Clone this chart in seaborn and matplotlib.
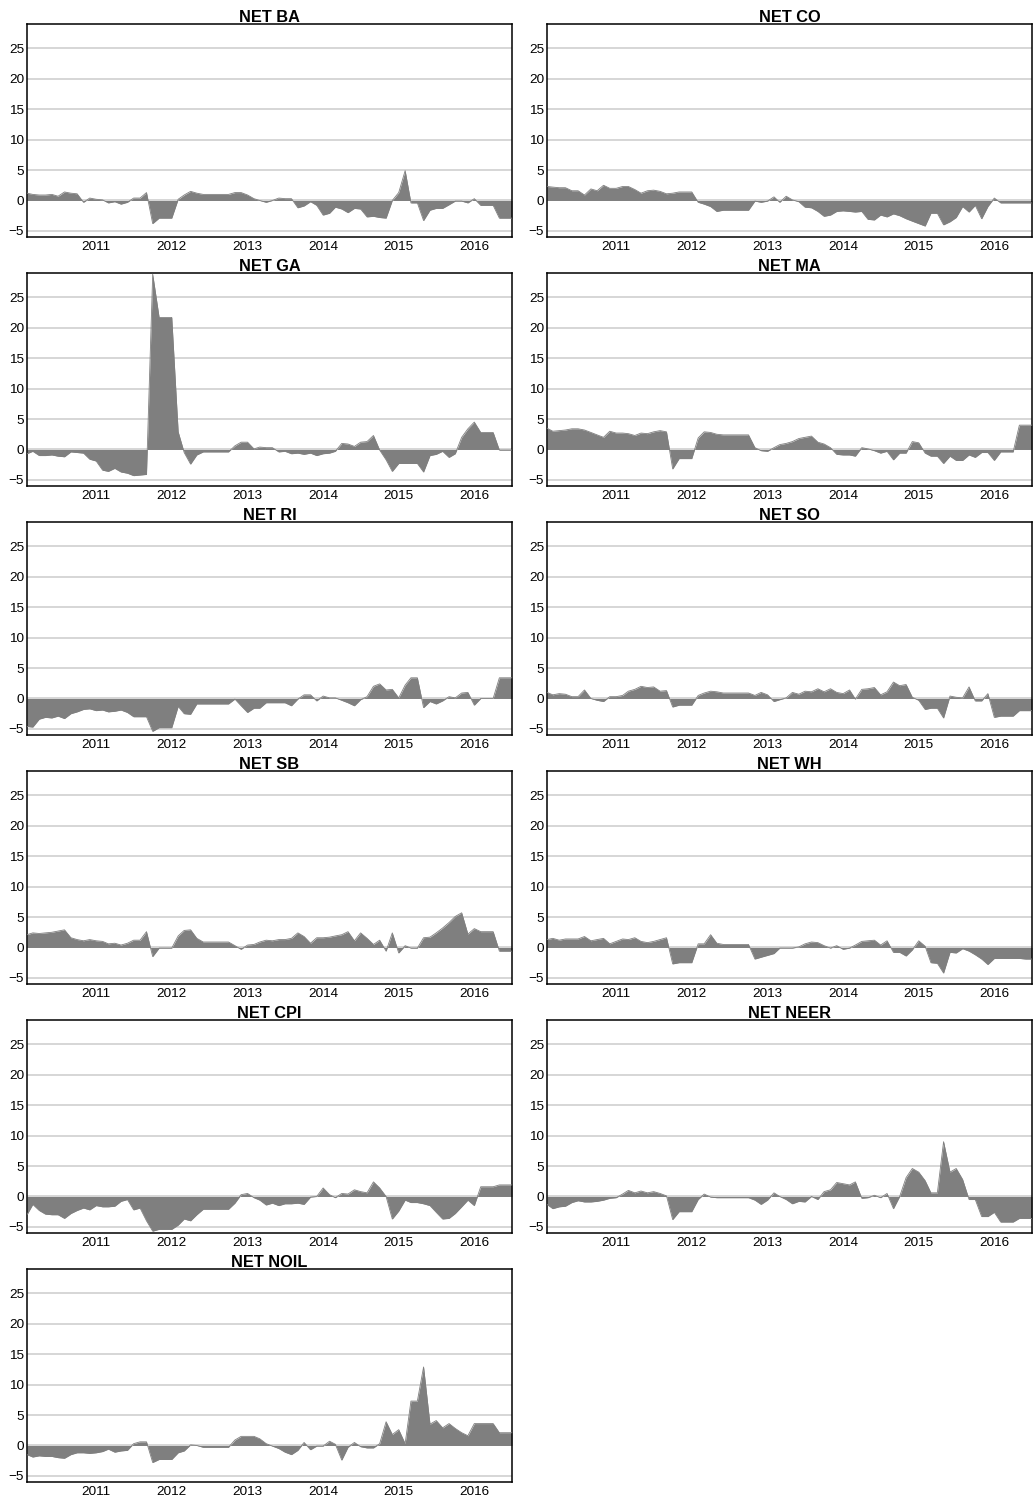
import numpy as np
import pandas as pd
import matplotlib
matplotlib.use("Agg")
import matplotlib.pyplot as plt
import matplotlib.dates as mdates
import seaborn as sns

# ---- data (monthly, Feb 2010 - Jul 2016) ----
dates = pd.date_range("2010-02-01", periods=78, freq="MS")

net_ba = [1.2, 1.0, 0.9, 0.9, 1.0, 0.7, 1.4, 1.2, 1.1, -0.3, 0.4,
          0.2, 0.1, -0.4, -0.2, -0.6, -0.3, 0.4, 0.4, 1.3, -3.8, -2.9, -2.9,
          -2.9, 0.2, 0.9, 1.5, 1.2, 1.0, 1.0, 1.0, 1.0, 1.0, 1.3, 1.3,
          0.9, 0.3, 0.0, -0.3, 0.0, 0.4, 0.3, 0.3, -1.2, -0.9, -0.2, -0.8,
          -2.4, -2.1, -1.1, -1.4, -2.0, -1.3, -1.4, -2.7, -2.6, -2.8, -2.9, 0.0,
          1.3, 4.9, -0.4, -0.4, -3.3, -1.6, -1.3, -1.3, -0.7, -0.1, -0.1, -0.4,
          0.3, -0.8, -0.8, -0.8, -2.9, -2.9, -2.9]

net_co = [2.3, 2.2, 2.1, 2.1, 1.6, 1.6, 0.9, 1.9, 1.6, 2.5, 2.0,
          2.0, 2.3, 2.3, 1.8, 1.2, 1.6, 1.7, 1.5, 1.1, 1.2, 1.4, 1.4,
          1.4, -0.3, -0.6, -1.0, -1.8, -1.6, -1.6, -1.6, -1.6, -1.6, -0.1, -0.3,
          -0.1, 0.6, -0.3, 0.7, 0.1, -0.2, -1.1, -1.2, -1.8, -2.6, -2.4, -1.8,
          -1.7, -1.8, -1.9, -1.8, -3.1, -3.2, -2.4, -2.7, -2.2, -2.5, -3.0, -3.4,
          -3.8, -4.2, -2.1, -2.1, -4.0, -3.5, -2.8, -1.0, -1.9, -0.8, -3.0, -1.0,
          0.4, -0.4, -0.4, -0.4, -0.4, -0.4, -0.4]

net_ga = [-0.7, -0.3, -1.0, -1.0, -0.9, -1.1, -1.2, -0.4, -0.5, -0.6, -1.6,
          -1.9, -3.4, -3.6, -3.1, -3.7, -3.9, -4.3, -4.2, -4.1, 28.8, 21.7, 21.7,
          21.7, 2.9, -0.5, -2.4, -0.9, -0.4, -0.4, -0.4, -0.4, -0.4, 0.6, 1.2,
          1.2, 0.1, 0.4, 0.3, 0.3, -0.4, -0.3, -0.7, -0.6, -0.8, -0.6, -1.0,
          -0.7, -0.6, -0.3, 1.0, 0.9, 0.5, 1.2, 1.3, 2.3, -0.1, -1.7, -3.6,
          -2.3, -2.3, -2.3, -2.3, -3.7, -1.0, -0.8, -0.3, -1.3, -0.7, 2.0, 3.4,
          4.5, 2.8, 2.8, 2.8, -0.1, -0.1, -0.1]

net_ma = [3.5, 3.0, 3.1, 3.2, 3.4, 3.4, 3.2, 2.8, 2.4, 2.0, 3.0,
          2.7, 2.7, 2.6, 2.3, 2.7, 2.6, 2.9, 3.1, 2.9, -3.2, -1.5, -1.5,
          -1.5, 1.9, 2.9, 2.8, 2.5, 2.4, 2.4, 2.4, 2.4, 2.4, 0.3, -0.2,
          -0.3, 0.3, 0.8, 1.0, 1.3, 1.8, 2.0, 2.2, 1.2, 0.9, 0.3, -0.8,
          -0.9, -0.9, -1.1, 0.3, 0.1, -0.2, -0.6, -0.3, -1.7, -0.6, -0.6, 1.3,
          1.1, -0.6, -1.1, -1.1, -2.3, -1.1, -1.8, -1.8, -0.9, -1.3, -0.5, -0.5,
          -1.8, -0.4, -0.4, -0.4, 4.0, 4.0, 4.0]

net_ri = [-4.6, -4.7, -3.4, -3.1, -3.2, -2.9, -3.3, -2.5, -2.2, -1.8, -1.7,
          -2.0, -1.9, -2.2, -2.1, -1.9, -2.3, -3.0, -3.0, -3.0, -5.4, -4.8, -4.8,
          -4.8, -1.3, -2.5, -2.6, -0.9, -0.9, -0.9, -0.9, -0.9, -0.9, -0.1, -1.2,
          -2.3, -1.6, -1.6, -0.7, -0.7, -0.7, -0.7, -1.2, -0.1, 0.6, 0.6, -0.4,
          0.4, 0.1, 0.1, -0.3, -0.7, -1.2, -0.2, 0.3, 2.0, 2.4, 1.4, 1.5,
          0.1, 2.2, 3.4, 3.4, -1.5, -0.5, -0.9, -0.4, 0.3, 0.1, 0.9, 1.0,
          -1.1, 0.0, 0.0, 0.0, 3.4, 3.4, 3.4]

net_so = [1.0, 0.6, 0.8, 0.7, 0.3, 0.3, 1.4, 0.0, -0.3, -0.5, 0.3,
          0.3, 0.5, 1.2, 1.5, 2.0, 1.8, 1.9, 1.2, 1.3, -1.4, -1.1, -1.1,
          -1.1, 0.5, 0.9, 1.2, 1.1, 0.9, 0.9, 0.9, 0.9, 0.9, 0.5, 1.0,
          0.6, -0.5, -0.2, 0.1, 1.0, 0.7, 1.2, 1.1, 1.6, 1.1, 1.6, 1.0,
          0.8, 1.4, -0.1, 1.5, 1.6, 1.8, 0.6, 1.1, 2.7, 2.1, 2.3, 0.2,
          -0.3, -1.8, -1.6, -1.6, -3.2, 0.4, 0.2, 0.1, 1.9, -0.4, -0.4, 0.8,
          -3.1, -2.9, -2.9, -2.9, -2.0, -2.0, -2.0]

net_sb = [2.1, 2.4, 2.3, 2.4, 2.5, 2.7, 2.9, 1.6, 1.3, 1.1, 1.3,
          1.1, 1.0, 0.6, 0.7, 0.4, 0.7, 1.2, 1.2, 2.6, -1.5, -0.1, -0.1,
          -0.1, 1.9, 2.8, 2.9, 1.5, 0.9, 0.9, 0.9, 0.9, 0.9, 0.3, -0.3,
          0.4, 0.5, 0.9, 1.2, 1.1, 1.3, 1.3, 1.5, 2.4, 1.8, 0.7, 1.6,
          1.6, 1.7, 1.9, 2.1, 2.6, 1.1, 2.4, 1.5, 0.5, 1.2, -0.6, 2.4,
          -0.9, 0.3, -0.1, -0.1, 1.6, 1.7, 2.4, 3.2, 4.1, 5.1, 5.7, 2.2,
          3.1, 2.6, 2.6, 2.6, -0.6, -0.6, -0.6]

net_wh = [1.3, 1.5, 1.2, 1.4, 1.4, 1.4, 1.8, 1.1, 1.3, 1.5, 0.6,
          1.0, 1.4, 1.3, 1.6, 1.0, 0.8, 1.0, 1.3, 1.6, -2.7, -2.5, -2.5,
          -2.5, 0.6, 0.6, 2.1, 0.7, 0.5, 0.5, 0.5, 0.5, 0.5, -1.9, -1.6,
          -1.3, -1.0, -0.1, -0.1, -0.1, 0.1, 0.6, 0.9, 0.8, 0.3, -0.1, 0.3,
          -0.3, -0.1, 0.4, 1.0, 1.1, 1.2, 0.4, 1.1, -0.8, -0.8, -1.4, -0.4,
          1.1, 0.2, -2.5, -2.6, -4.2, -0.8, -0.9, -0.2, -0.6, -1.2, -1.9, -2.8,
          -1.8, -1.8, -1.8, -1.8, -1.8, -1.9, -1.9]

net_cpi = [-3.0, -1.3, -2.3, -2.9, -3.0, -3.0, -3.6, -2.8, -2.3, -1.9, -2.2,
           -1.5, -1.7, -1.7, -1.6, -0.8, -0.5, -2.2, -1.9, -4.0, -5.7, -5.4, -5.4,
           -5.4, -4.7, -3.7, -4.0, -3.0, -2.1, -2.1, -2.1, -2.1, -2.1, -1.1, 0.3,
           0.5, -0.2, -0.6, -1.4, -1.1, -1.5, -1.2, -1.2, -1.1, -1.3, -0.1, 0.0,
           1.4, 0.3, -0.2, 0.5, 0.4, 1.1, 0.8, 0.6, 2.4, 1.4, 0.0, -3.7,
           -2.4, -0.6, -1.0, -1.0, -1.2, -1.5, -2.6, -3.7, -3.6, -2.8, -1.7, -0.6,
           -1.5, 1.6, 1.6, 1.6, 1.9, 1.9, 1.9]

net_neer = [-1.3, -2.0, -1.7, -1.6, -1.0, -0.7, -0.9, -0.9, -0.8, -0.6, -0.3,
            -0.2, 0.4, 1.0, 0.6, 0.9, 0.6, 0.8, 0.5, 0.1, -3.8, -2.5, -2.5,
            -2.5, -0.5, 0.4, -0.1, -0.2, -0.2, -0.2, -0.2, -0.2, -0.2, -0.6, -1.3,
            -0.6, 0.6, 0.0, -0.5, -1.2, -0.8, -0.9, 0.0, -0.5, 0.8, 1.1, 2.3,
            2.1, 1.9, 2.4, -0.3, -0.2, 0.2, -0.2, 0.5, -2.0, 0.0, 3.1, 4.6,
            4.0, 2.6, 0.6, 0.6, 9.0, 4.0, 4.6, 2.8, -0.5, -0.5, -3.3, -3.3,
            -2.6, -4.2, -4.2, -4.2, -3.6, -3.6, -3.6]

net_noil = [-1.5, -1.9, -1.7, -1.8, -1.8, -2.0, -2.1, -1.5, -1.2, -1.2, -1.3,
            -1.2, -1.0, -0.6, -1.1, -0.9, -0.8, 0.3, 0.6, 0.6, -2.8, -2.3, -2.3,
            -2.3, -1.2, -0.9, 0.1, 0.0, -0.3, -0.3, -0.3, -0.3, -0.3, 0.9, 1.5,
            1.5, 1.5, 1.1, 0.3, -0.1, -0.5, -1.1, -1.5, -0.8, 0.5, -0.7, -0.1,
            -0.1, 0.7, 0.2, -2.4, -0.3, 0.5, -0.2, -0.4, -0.4, 0.3, 3.9, 1.8,
            2.6, 0.3, 7.3, 7.3, 12.9, 3.5, 4.1, 2.9, 3.6, 2.8, 2.1, 1.6,
            3.6, 3.6, 3.6, 3.6, 2.1, 2.1, 2.1]

titles = ["NET BA", "NET CO", "NET GA", "NET MA", "NET RI", "NET SO",
          "NET SB", "NET WH", "NET CPI", "NET NEER", "NET NOIL"]
series = [net_ba, net_co, net_ga, net_ma, net_ri, net_so,
          net_sb, net_wh, net_cpi, net_neer, net_noil]
yticks = [-5, 0, 5, 10, 15, 20, 25]
xtick_years = [2011, 2012, 2013, 2014, 2015, 2016]

# ---- style ----
sns.set_theme(style="white")
plt.rcParams["font.family"] = ["Liberation Sans", "DejaVu Sans"]

W, H = 1033, 1504
fig = plt.figure(figsize=(W / 100, H / 100), dpi=100)

fill_color = "#7f7f7f"
for i, (name, vals) in enumerate(zip(titles, series)):
    r, c = divmod(i, 2)
    left = 27 if c == 0 else 547
    top = 24 + r * 249
    ax = fig.add_axes([left / W, 1 - (top + 213) / H, 485 / W, 213 / H])
    df = pd.DataFrame({"date": dates, "value": vals})
    ax.fill_between(df["date"], 0, df["value"], color=fill_color, linewidth=0, zorder=2)
    sns.lineplot(data=df, x="date", y="value", ax=ax, color=fill_color,
                 linewidth=0.6, zorder=3)
    ax.set_xlim(pd.Timestamp("2010-02-01"), pd.Timestamp("2016-07-01"))
    ax.set_ylim(-6, 29)
    ax.set_yticks(yticks)
    ax.set_xticks([pd.Timestamp(f"{y}-01-01") for y in xtick_years])
    ax.xaxis.set_major_formatter(mdates.DateFormatter("%Y"))
    ax.grid(axis="y", color="#cccccc", linewidth=1.1, zorder=0)
    ax.grid(axis="x", visible=False)
    ax.set_axisbelow(True)
    ax.set_xlabel("")
    ax.set_ylabel("")
    ax.tick_params(axis="both", length=0, labelsize=9.7, colors="black")
    ax.tick_params(axis="y", pad=2)
    ax.tick_params(axis="x", pad=3)
    for s in ax.spines.values():
        s.set_visible(True)
        s.set_color("black")
        s.set_linewidth(1.1)
    ax.set_title(name, fontweight="bold", fontsize=11.8, pad=1.5, color="black")

fig.savefig("out.png", dpi=100)
